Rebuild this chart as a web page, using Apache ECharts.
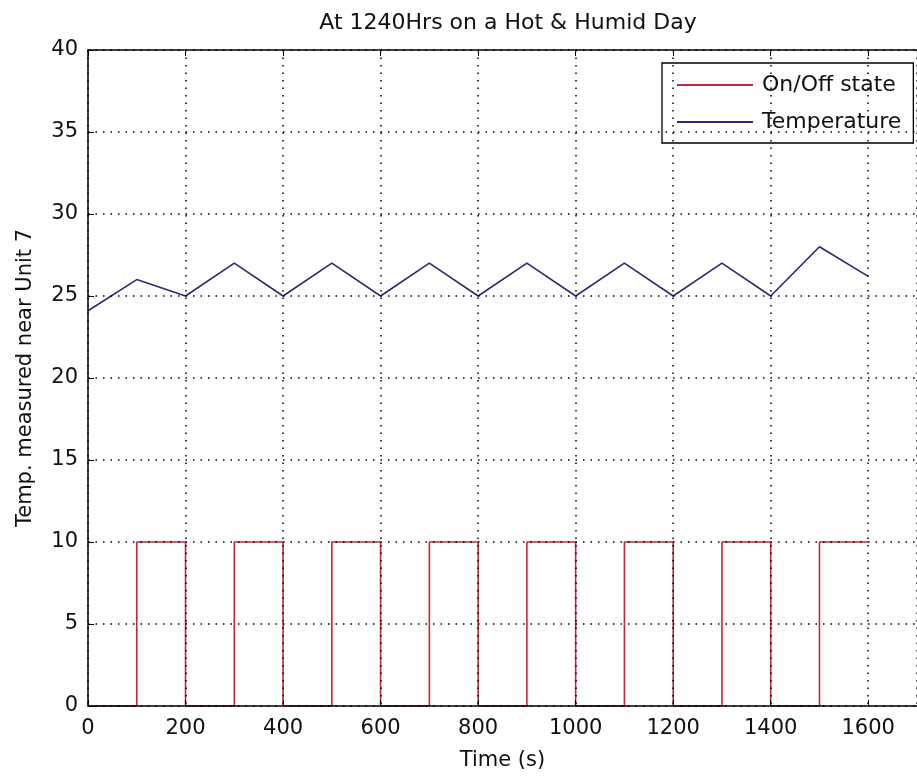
<!DOCTYPE html>
<html><head><meta charset="utf-8">
<script src="https://cdn.jsdelivr.net/npm/echarts@6/dist/echarts.min.js"></script>
<style>html,body{margin:0;padding:0;background:#fff}#c{width:917px;height:781px}</style>
</head><body><div id="c"></div>
<script>
var times = [0,100,200,300,400,500,600,700,800,900,1000,1100,1200,1300,1400,1500,1600];
var onOff = [0,10,0,10,0,10,0,10,0,10,0,10,0,10,0,10,10];
var temperature = [24.1,26,25,27,25,27,25,27,25,27,25,27,25,27,25,28,26.2];
var xTicks = [0,200,400,600,800,1000,1200,1400,1600];
var yTicks = [0,5,10,15,20,25,30,35,40];
var titleText = 'At 1240Hrs on a Hot & Humid Day';
var xName = 'Time (s)';
var yName = 'Temp. measured near Unit 7';
var names = ['On/Off state','Temperature'];
var colors = ['#c0283c','#2a2a78'];

var F = '"DejaVu Sans", sans-serif';
var chart = echarts.init(document.getElementById('c'));
function pairs(ys){return times.map(function(t,i){return [t, ys[i]];});}
function fmt(v){return String(v);}
chart.setOption({
  animation:false,
  backgroundColor:'#fff',
  title:{text:titleText,left:503,textAlign:'center',top:7,textStyle:{fontFamily:F,fontSize:22,fontWeight:'normal',color:'#111'}},
  legend:{
    orient:'vertical',left:662,top:63,
    padding:[11,12,10,15],itemGap:15,itemWidth:76,itemHeight:2,icon:'rect',
    borderColor:'#000',borderWidth:1.3,backgroundColor:'#fff',
    textStyle:{fontFamily:F,fontSize:22,color:'#111',padding:[0,0,0,4]},
    data:names
  },
  grid:{left:88,top:50,bottom:75,right:-4,containLabel:false},
  xAxis:[{
    type:'value',min:0,max:1700,interval:200,z:5,
    name:xName,nameLocation:'middle',nameGap:44,
    nameTextStyle:{fontFamily:F,fontSize:21,color:'#111'},
    axisLine:{show:true,lineStyle:{color:'#000',width:1.5}},
    axisTick:{show:true,inside:true,length:6,lineStyle:{color:'#000'}},
    axisLabel:{fontFamily:F,fontSize:21,color:'#111',margin:12,showMaxLabel:false,formatter:fmt},
    splitLine:{show:true,lineStyle:{color:'#000',type:[1.5,6],width:1.5}}
  },{
    type:'value',position:'top',min:0,max:1700,interval:200,z:5,
    axisLine:{show:true,onZero:false,lineStyle:{color:'#000',width:1.5}},
    axisTick:{show:true,inside:true,length:6,lineStyle:{color:'#000'}},
    axisLabel:{show:false},splitLine:{show:false}
  }],
  yAxis:{
    type:'value',min:0,max:40,interval:5,z:5,
    name:yName,nameLocation:'middle',nameGap:52,
    nameTextStyle:{fontFamily:F,fontSize:21,color:'#111'},
    axisLine:{show:true,lineStyle:{color:'#000',width:1.5}},
    axisTick:{show:true,inside:true,length:6,lineStyle:{color:'#000'}},
    axisLabel:{fontFamily:F,fontSize:21,color:'#111',margin:10,formatter:fmt},
    splitLine:{show:true,lineStyle:{color:'#000',type:[1.5,6],width:1.5}}
  },
  series:[{
    name:names[0],type:'line',step:'end',data:pairs(onOff),
    symbol:'none',lineStyle:{color:colors[0],width:1.6},itemStyle:{color:colors[0]},z:2
  },{
    name:names[1],type:'line',data:pairs(temperature),
    symbol:'none',lineStyle:{color:colors[1],width:1.6},itemStyle:{color:colors[1]},z:2
  }]
});
</script></body></html>
